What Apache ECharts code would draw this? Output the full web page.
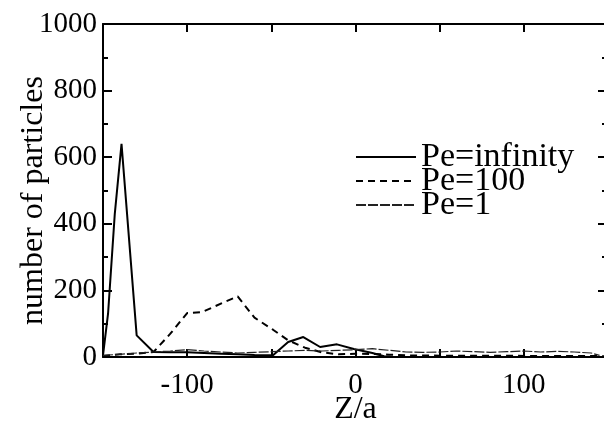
<!DOCTYPE html>
<html>
<head>
<meta charset="utf-8">
<script src="https://cdn.jsdelivr.net/npm/echarts@6/dist/echarts.min.js"></script>
<style>html,body{margin:0;padding:0;background:#fff;}#c{width:604px;height:427px;}</style>
</head>
<body>
<div id="c"></div>
<script>
var seriesNames = ['Pe=infinity', 'Pe=100', 'Pe=1'];
var xTickLabels = [-100, 0, 100];
var yTickLabels = [0, 200, 400, 600, 800, 1000];

var peInfZ = [-150, -147, -143, -139, -130, -120, -110, -100, -90, -80, -70, -60, -49, -40, -31, -21, -11, -1, 10, 17, 22, 30, 60, 100, 150];
var peInfN = [5, 130, 430, 640, 65, 15, 14, 14, 12, 10, 8, 6, 5, 45, 60, 30, 38, 24, 12, 2, 0, 0, 0, 0, 0];

var pe100Z = [-150, -140, -130, -120, -110, -100, -91, -78, -70, -60, -49, -40, -30, -20, -10, 0, 10, 20, 30, 50, 80, 110, 140, 150];
var pe100N = [3, 8, 10, 15, 70, 132, 135, 165, 182, 118, 82, 50, 28, 14, 8, 10, 9, 7, 5, 4, 4, 3, 3, 2];

var pe1Z = [-150, -140, -130, -120, -110, -100, -90, -80, -70, -60, -50, -40, -30, -20, -10, 0, 10, 20, 30, 40, 50, 60, 70, 80, 90, 100, 110, 120, 130, 140, 145];
var pe1N = [5, 8, 12, 15, 18, 22, 18, 15, 12, 14, 16, 18, 20, 18, 20, 22, 25, 20, 15, 14, 15, 18, 16, 14, 16, 18, 15, 17, 15, 12, 5];

function pairs(xs, ys) { return xs.map(function (x, i) { return [x, ys[i]]; }); }

var font = 'Liberation Serif';
var chart = echarts.init(document.getElementById('c'));
chart.setOption({
  backgroundColor: '#fff',
  animation: false,
  textStyle: { fontFamily: font, color: '#000' },
  grid: { left: 103, right: -4, top: 24, bottom: 70, containLabel: false, outerBoundsMode: 'none' },
  legend: {
    orient: 'vertical', left: 350, top: 135, itemWidth: 60, itemHeight: 2, itemGap: -10,
    itemStyle: { opacity: 0 },
    textStyle: { fontFamily: font, fontSize: 34, color: '#000' },
    data: seriesNames
  },
  xAxis: [{
    type: 'value', min: -150, max: 150, interval: 50,
    name: 'Z/a', nameLocation: 'middle', nameGap: 37, nameMoveOverlap: false,
    nameTextStyle: { fontFamily: font, fontSize: 32, color: '#000' },
    axisLine: { onZero: false, lineStyle: { color: '#000', width: 2 } },
    axisTick: { inside: true, length: 8, lineStyle: { color: '#000', width: 2 } },
    axisLabel: { margin: 14, fontFamily: font, fontSize: 29, color: '#000',
      formatter: function (v) { return xTickLabels.indexOf(v) >= 0 ? String(v) : ''; } },
    splitLine: { show: false }
  }, {
    type: 'value', position: 'top', min: -150, max: 150, interval: 50,
    axisLine: { onZero: false, lineStyle: { color: '#000', width: 2 } },
    axisTick: { inside: true, length: 8, lineStyle: { color: '#000', width: 2 } },
    axisLabel: { show: false }, splitLine: { show: false }
  }],
  yAxis: [{
    type: 'value', min: 0, max: 1000, interval: 200,
    name: 'number of particles', nameLocation: 'middle', nameGap: 53, nameMoveOverlap: false,
    nameTextStyle: { fontFamily: font, fontSize: 32, color: '#000', padding: [0, 20, 0, 0] },
    axisLine: { show: true, onZero: false, lineStyle: { color: '#000', width: 2 } },
    axisTick: { inside: true, length: 9, lineStyle: { color: '#000', width: 2 } },
    minorTick: { show: true, splitNumber: 2, length: 5, lineStyle: { color: '#000', width: 2 } },
    axisLabel: { margin: 6, fontFamily: font, fontSize: 29, color: '#000',
      formatter: function (v) { return yTickLabels.indexOf(v) >= 0 ? String(v) : ''; } },
    splitLine: { show: false }
  }, {
    type: 'value', position: 'right', min: 0, max: 1000, interval: 200,
    axisLine: { show: true, onZero: false, lineStyle: { color: '#000', width: 2 } },
    axisTick: { inside: true, length: 10, lineStyle: { color: '#000', width: 2 } },
    minorTick: { show: true, splitNumber: 2, length: 6, lineStyle: { color: '#000', width: 2 } },
    axisLabel: { show: false }, splitLine: { show: false }
  }],
  series: [{
    name: seriesNames[0], type: 'line', showSymbol: false, symbol: 'none',
    data: pairs(peInfZ, peInfN), lineStyle: { color: '#000', width: 2 }, itemStyle: { color: '#000' }
  }, {
    name: seriesNames[1], type: 'line', showSymbol: false, symbol: 'none',
    data: pairs(pe100Z, pe100N), lineStyle: { color: '#000', width: 2, type: [7, 5] }, itemStyle: { color: '#000' }
  }, {
    name: seriesNames[2], type: 'line', showSymbol: false, symbol: 'none',
    data: pairs(pe1Z, pe1N), lineStyle: { color: '#222', width: 1.2, type: [10, 2] }, itemStyle: { color: '#222' }
  }]
});
</script>
</body>
</html>
